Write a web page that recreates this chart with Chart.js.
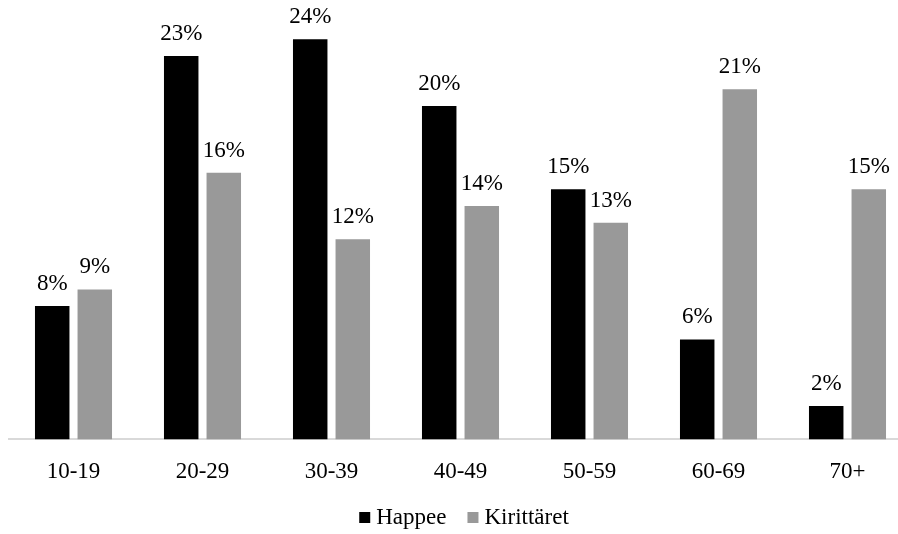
<!DOCTYPE html>
<html>
<head>
<meta charset="utf-8">
<script src="https://cdn.jsdelivr.net/npm/chart.js@4.4.1/dist/chart.umd.min.js"></script>
<style>
  html, body { margin: 0; padding: 0; background: #ffffff; overflow: hidden; }
  #wrap { position: absolute; left: 0; top: 0; width: 928px; height: 534px; }
</style>
</head>
<body>
<div id="wrap"><canvas id="c" width="928" height="534"></canvas></div>
<script>
// Age groups on the x axis
const ageGroups = ['10-19', '20-29', '30-39', '40-49', '50-59', '60-69', '70+'];
// Share of each group, in percent
const happeeShare = [8, 23, 24, 20, 15, 6, 2];
const kirittaretShare = [9, 16, 12, 14, 13, 21, 15];
const seriesNames = ['Happee', 'Kirittäret'];

const FONT = "'Liberation Serif', 'Times New Roman', serif";

// Percent label above each bar
const valueLabels = {
  id: 'valueLabels',
  afterDatasetsDraw(chart) {
    const ctx = chart.ctx;
    ctx.save();
    ctx.font = '23px ' + FONT;
    ctx.fillStyle = '#000000';
    ctx.textAlign = 'center';
    ctx.textBaseline = 'alphabetic';
    chart.data.datasets.forEach((ds, i) => {
      const meta = chart.getDatasetMeta(i);
      meta.data.forEach((bar, j) => {
        ctx.fillText(ds.data[j] + '%', bar.x, bar.y - 16);
      });
    });
    ctx.restore();
  }
};

// Compact legend row under the axis labels: square swatch, small gap, series name
const swatchLegend = {
  id: 'swatchLegend',
  afterDraw(chart) {
    const ctx = chart.ctx;
    const box = 11, gapText = 6, gapItem = 21, baseline = 524;
    ctx.save();
    ctx.font = '23px ' + FONT;
    ctx.textAlign = 'left';
    ctx.textBaseline = 'alphabetic';
    const items = chart.data.datasets.map(ds => ({
      text: ds.label, color: ds.backgroundColor, w: ctx.measureText(ds.label).width
    }));
    const total = items.reduce((s, it) => s + box + gapText + it.w, 0) + gapItem * (items.length - 1);
    let x = chart.width / 2 - total / 2;
    items.forEach(it => {
      ctx.fillStyle = it.color;
      ctx.fillRect(x, baseline - 12, box, box);
      ctx.fillStyle = '#000000';
      ctx.fillText(it.text, x + box + gapText, baseline);
      x += box + gapText + it.w + gapItem;
    });
    ctx.restore();
  }
};

new Chart(document.getElementById('c'), {
  type: 'bar',
  data: {
    labels: ageGroups,
    datasets: [
      { label: seriesNames[0], data: happeeShare, backgroundColor: '#000000', borderWidth: 0 },
      { label: seriesNames[1], data: kirittaretShare, backgroundColor: '#999999', borderWidth: 0 }
    ]
  },
  options: {
    responsive: false,
    devicePixelRatio: 1,
    animation: false,
    categoryPercentage: 0.66,
    barPercentage: 0.81,
    layout: { padding: { left: 9, right: 16, top: 6, bottom: 37 } },
    plugins: {
      legend: { display: false },
      tooltip: { enabled: false }
    },
    scales: {
      x: {
        grid: { display: false },
        border: { display: true, color: '#d9d9d9', width: 2 },
        ticks: { font: { family: FONT, size: 23 }, color: '#000000', padding: 11 }
      },
      y: {
        display: false,
        min: 0,
        max: 26
      }
    }
  },
  plugins: [valueLabels, swatchLegend]
});
</script>
</body>
</html>
